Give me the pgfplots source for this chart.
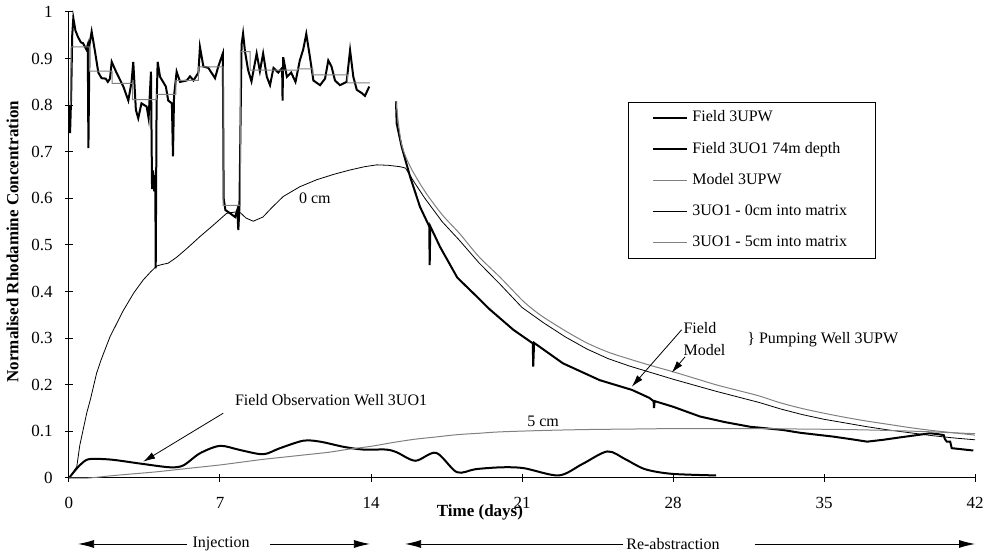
\documentclass[border=0pt]{standalone}
\usepackage{fontspec}
\setmainfont{Liberation Serif}
\usepackage{pgfplots}
\pgfplotsset{compat=1.18}
\usetikzlibrary{arrows.meta}

\begin{document}
\begin{tikzpicture}
\path[use as bounding box] (-34.5pt,-39pt) rectangle (458pt,239pt);
\begin{axis}[
  at={(0,0)}, anchor=south west,
  scale only axis, width=453pt, height=233pt,
  xmin=0, xmax=42, ymin=0, ymax=1,
  axis lines=left, axis line style={-, line width=0.5pt},
  xtick={0,7,14,21,28,35,42},
  ytick={0,0.1,0.2,0.3,0.4,0.5,0.6,0.7,0.8,0.9,1},
  tick align=center, major tick length=4pt,
  tick style={black, line width=0.5pt},
  tick label style={font=\fontsize{8.5}{10}\selectfont},
  /pgf/number format/assume math mode=true,
  xticklabel style={anchor=center, yshift=-10.5pt},
  yticklabel style={anchor=east, inner sep=0pt, xshift=-6pt},
  ylabel={Normalised Rhodamine Concentration},
  ylabel style={at={(axis description cs:-0.0624,0.507)}, anchor=center,
    font=\bfseries\fontsize{8.5}{10}\selectfont},
  xlabel={Time (days)},
  xlabel style={at={(axis description cs:0.4536,0)}, anchor=center, yshift=-17pt,
    font=\bfseries\fontsize{8.5}{10}\selectfont},
  clip=false,
  legend cell align=left,
  legend image code/.code={\draw[#1] (0pt,0pt) -- (17pt,0pt);},
  legend style={at={(axis description cs:0.617,0.807)}, anchor=north west,
    draw=black, line width=0.4pt, font=\fontsize{8}{9.6}\selectfont,
    inner xsep=12pt, inner ysep=2.3pt, row sep=4.6pt,
    nodes={text height=5.5pt, text depth=1.5pt}},
]
% Field 3UPW, injection
\addplot[black, line width=1pt] coordinates {
(0,0.80) (0.05,0.74) (0.1,0.82) (0.15,0.95) (0.2,0.987) (0.3,0.96) (0.42,0.946)
(0.55,0.935) (0.65,0.933) (0.8,0.92) (0.87,0.93) (0.9,0.708) (0.95,0.93) (1.05,0.958)
(1.2,0.917) (1.36,0.87) (1.51,0.858) (1.7,0.857) (1.8,0.85) (1.9,0.857) (1.98,0.893)
(2.2,0.87) (2.52,0.84) (2.75,0.81) (2.9,0.85) (2.98,0.893) (3.1,0.79) (3.21,0.772)
(3.36,0.804) (3.6,0.797) (3.69,0.772) (3.8,0.872) (3.85,0.62) (3.9,0.66) (3.95,0.615)
(4.0,0.65) (4.02,0.45) (4.06,0.80) (4.11,0.893) (4.22,0.861) (4.49,0.84) (4.6,0.81)
(4.77,0.804) (4.82,0.69) (4.87,0.82) (4.99,0.872) (5.15,0.85) (5.46,0.853) (5.61,0.862)
(5.77,0.853) (6.0,0.87) (6.07,0.925) (6.23,0.883) (6.46,0.88) (6.77,0.858) (6.92,0.883)
(7.13,0.911) (7.17,0.60) (7.25,0.575) (7.5,0.567) (7.7,0.56) (7.8,0.575) (7.85,0.532)
(7.9,0.58) (8.0,0.93) (8.07,0.954) (8.16,0.915) (8.3,0.876) (8.46,0.851) (8.7,0.911)
(8.85,0.873) (9.0,0.911) (9.17,0.861) (9.32,0.843) (9.48,0.88) (9.7,0.87) (9.88,0.88)
(9.9,0.81) (9.93,0.903) (10.1,0.861) (10.3,0.87) (10.5,0.85) (10.7,0.896) (10.86,0.92)
(11.0,0.953) (11.17,0.903) (11.33,0.853) (11.64,0.843) (11.87,0.857) (12.02,0.896)
(12.17,0.883) (12.33,0.853) (12.56,0.843) (12.87,0.85) (13.03,0.918) (13.18,0.861)
(13.34,0.833) (13.57,0.826) (13.72,0.82) (13.92,0.84)
};
\addlegendentry{Field 3UPW}
% Field 3UPW, re-abstraction
\addplot[black, line width=1pt, forget plot] coordinates {
(15.16,0.808) (15.19,0.761) (15.42,0.711) (15.81,0.647) (16.27,0.582) (16.7,0.54)
(16.72,0.457) (16.75,0.54) (17.2,0.496) (18.0,0.43) (19.0,0.385) (19.5,0.362)
(20.6,0.318) (21.5,0.289) (21.52,0.239) (21.56,0.29) (22.9,0.246) (24.6,0.21)
(26.1,0.189) (26.9,0.172) (27.1,0.165) (27.12,0.15) (27.15,0.165) (28,0.153)
(29.25,0.132) (30.4,0.12) (31.57,0.11) (33.1,0.103) (33.9,0.097) (35.4,0.089)
(36.3,0.083) (37,0.078) (37.75,0.082) (38.5,0.087) (39.3,0.092) (39.92,0.096)
(40.3,0.094) (40.55,0.092) (40.6,0.084) (40.69,0.078) (40.85,0.078) (40.92,0.064)
(41.92,0.059)
};
% Field 3UO1 74m depth
\addplot[black, line width=1pt, smooth] coordinates {
(0,0) (0.43,0.024) (0.82,0.039) (1.28,0.041) (2.05,0.039) (3.45,0.03) (4.68,0.023)
(5.3,0.027) (6.07,0.053) (7.0,0.069) (7.93,0.06) (9.0,0.051) (9.78,0.064) (10.86,0.08)
(11.64,0.078) (12.72,0.067) (13.64,0.061) (14.7,0.061) (15.2,0.055) (16.06,0.037)
(17.02,0.054) (17.98,0.0125) (18.85,0.019) (20.08,0.023) (21.1,0.021) (22.7,0.0055)
(23.8,0.03) (24.96,0.057) (25.8,0.04) (26.7,0.019) (27.93,0.009) (30.0,0.0055)
};
\addlegendentry{Field 3UO1 74m depth}
% Model 3UPW, injection
\addplot[gray, line width=0.5pt] coordinates {
(0.08,0.80) (0.1,0.925) (0.95,0.925) (0.95,0.873) (2.0,0.873) (2.0,0.847) (2.95,0.847)
(2.95,0.812) (4.05,0.812) (4.05,0.823) (4.95,0.823) (4.95,0.853) (6.0,0.853)
(6.0,0.882) (7.15,0.882) (7.15,0.585) (7.95,0.585) (7.95,0.915) (8.4,0.915)
(8.4,0.875) (10.6,0.875) (10.6,0.878) (11.3,0.878) (11.3,0.865) (12.9,0.865)
(12.9,0.848) (13.95,0.848)
};
\addlegendentry{Model 3UPW}
% Model 3UPW, re-abstraction
\addplot[gray, line width=0.5pt, smooth, forget plot] coordinates {
(15.16,0.808) (15.4,0.72) (15.8,0.67) (16.5,0.615) (17.3,0.565) (18.1,0.525)
(19,0.475) (20,0.43) (21,0.382) (21.5,0.362) (22,0.345) (23,0.316) (24,0.29)
(25,0.27) (26,0.255) (27,0.241) (28,0.228) (29,0.214) (30,0.2) (31,0.188) (32,0.176)
(33,0.161) (34,0.149) (35,0.139) (36,0.13) (37,0.122) (38,0.115) (39,0.108)
(40,0.102) (41,0.097) (42,0.092)
};
% 3UO1 - 0cm into matrix
\addplot[black, line width=0.4pt] coordinates {
(0,0) (0.36,0.024) (0.5,0.07) (0.82,0.139) (1.0,0.17) (1.28,0.225) (1.5,0.255)
(1.9,0.303) (2.5,0.358) (3.0,0.397) (3.44,0.425) (3.8,0.443) (4.07,0.455) (4.3,0.458)
(4.6,0.461) (5.0,0.474) (5.5,0.494) (6.07,0.518) (6.7,0.543) (7.31,0.568) (7.88,0.572)
(8.2,0.558) (8.54,0.551) (8.99,0.56) (9.4,0.58) (9.93,0.604) (10.7,0.625) (11.48,0.64)
(12.3,0.652) (13.03,0.661) (13.7,0.668) (14.27,0.672) (14.8,0.671) (15.35,0.668)
(15.6,0.665) (16,0.635) (16.5,0.6) (17.3,0.55) (18.1,0.51) (19,0.462) (20,0.415)
(21,0.366) (22,0.333) (23,0.303) (24,0.277) (25,0.256) (26,0.24) (27,0.226)
(28,0.212) (29,0.199) (30,0.186) (31,0.174) (32,0.162) (33,0.148) (34,0.136)
(35,0.126) (36,0.118) (37,0.11) (38,0.103) (39,0.097) (40,0.091) (41,0.086) (42,0.082)
};
\addlegendentry{3UO1 - 0cm into matrix}
% 3UO1 - 5cm into matrix
\addplot[gray, line width=0.5pt, smooth] coordinates {
(0,0) (0.9,0) (2,0.005) (3,0.009) (4,0.013) (5,0.018) (6,0.023) (7,0.028) (8,0.034)
(9,0.04) (10,0.045) (11,0.05) (12,0.055) (13,0.062) (14,0.068) (15,0.076) (16,0.083)
(17,0.088) (18,0.093) (19,0.096) (20,0.099) (22,0.102) (24,0.104) (26,0.105)
(28,0.106) (30,0.106) (32,0.106) (34,0.105) (36,0.104) (38,0.102) (40,0.099) (42,0.095)
};
\addlegendentry{3UO1 - 5cm into matrix}

% annotations
\begin{scope}[font=\fontsize{8}{9.6}\selectfont]
\node at (axis cs:11.4,0.601) {0 cm};
\node at (axis cs:21.98,0.121) {5 cm};
\node[anchor=west] at (axis cs:7.37,0.167) {Field Observation Well 3UO1};
\draw[-{Latex[length=6pt,width=3.5pt]}, line width=0.4pt] (axis cs:7.15,0.139) -- (axis cs:3.44,0.035);
\node[anchor=west, inner sep=0pt] at (axis cs:28.47,0.322) {Field};
\node[anchor=west, inner sep=0pt] at (axis cs:28.47,0.275) {Model};
\draw[-{Latex[length=6pt,width=3.5pt]}, line width=0.4pt] (axis cs:28.4,0.318) -- (axis cs:26.09,0.196);
\draw[-{Latex[length=6pt,width=3.5pt]}, line width=0.4pt] (axis cs:28.56,0.26) -- (axis cs:27.94,0.226);
\node[anchor=west, inner sep=0pt] at (axis cs:31.43,0.296) {\} Pumping Well 3UPW};
% phases
\draw[-{Latex[length=8pt,width=4pt]}, line width=0.4pt] (axis cs:5.47,-0.1416) -- (axis cs:0.42,-0.1416);
\draw[-{Latex[length=8pt,width=4pt]}, line width=0.4pt] (axis cs:9.32,-0.1416) -- (axis cs:13.95,-0.1416);
\node at (axis cs:7.05,-0.1416) {Injection};
\draw[-{Latex[length=8pt,width=4pt]}, line width=0.4pt] (axis cs:25.7,-0.1416) -- (axis cs:15.58,-0.1416);
\draw[-{Latex[length=8pt,width=4pt]}, line width=0.4pt] (axis cs:31.8,-0.1416) -- (axis cs:42,-0.1416);
\node at (axis cs:28,-0.1416) {Re-abstraction};
\end{scope}
\end{axis}
\end{tikzpicture}
\end{document}
